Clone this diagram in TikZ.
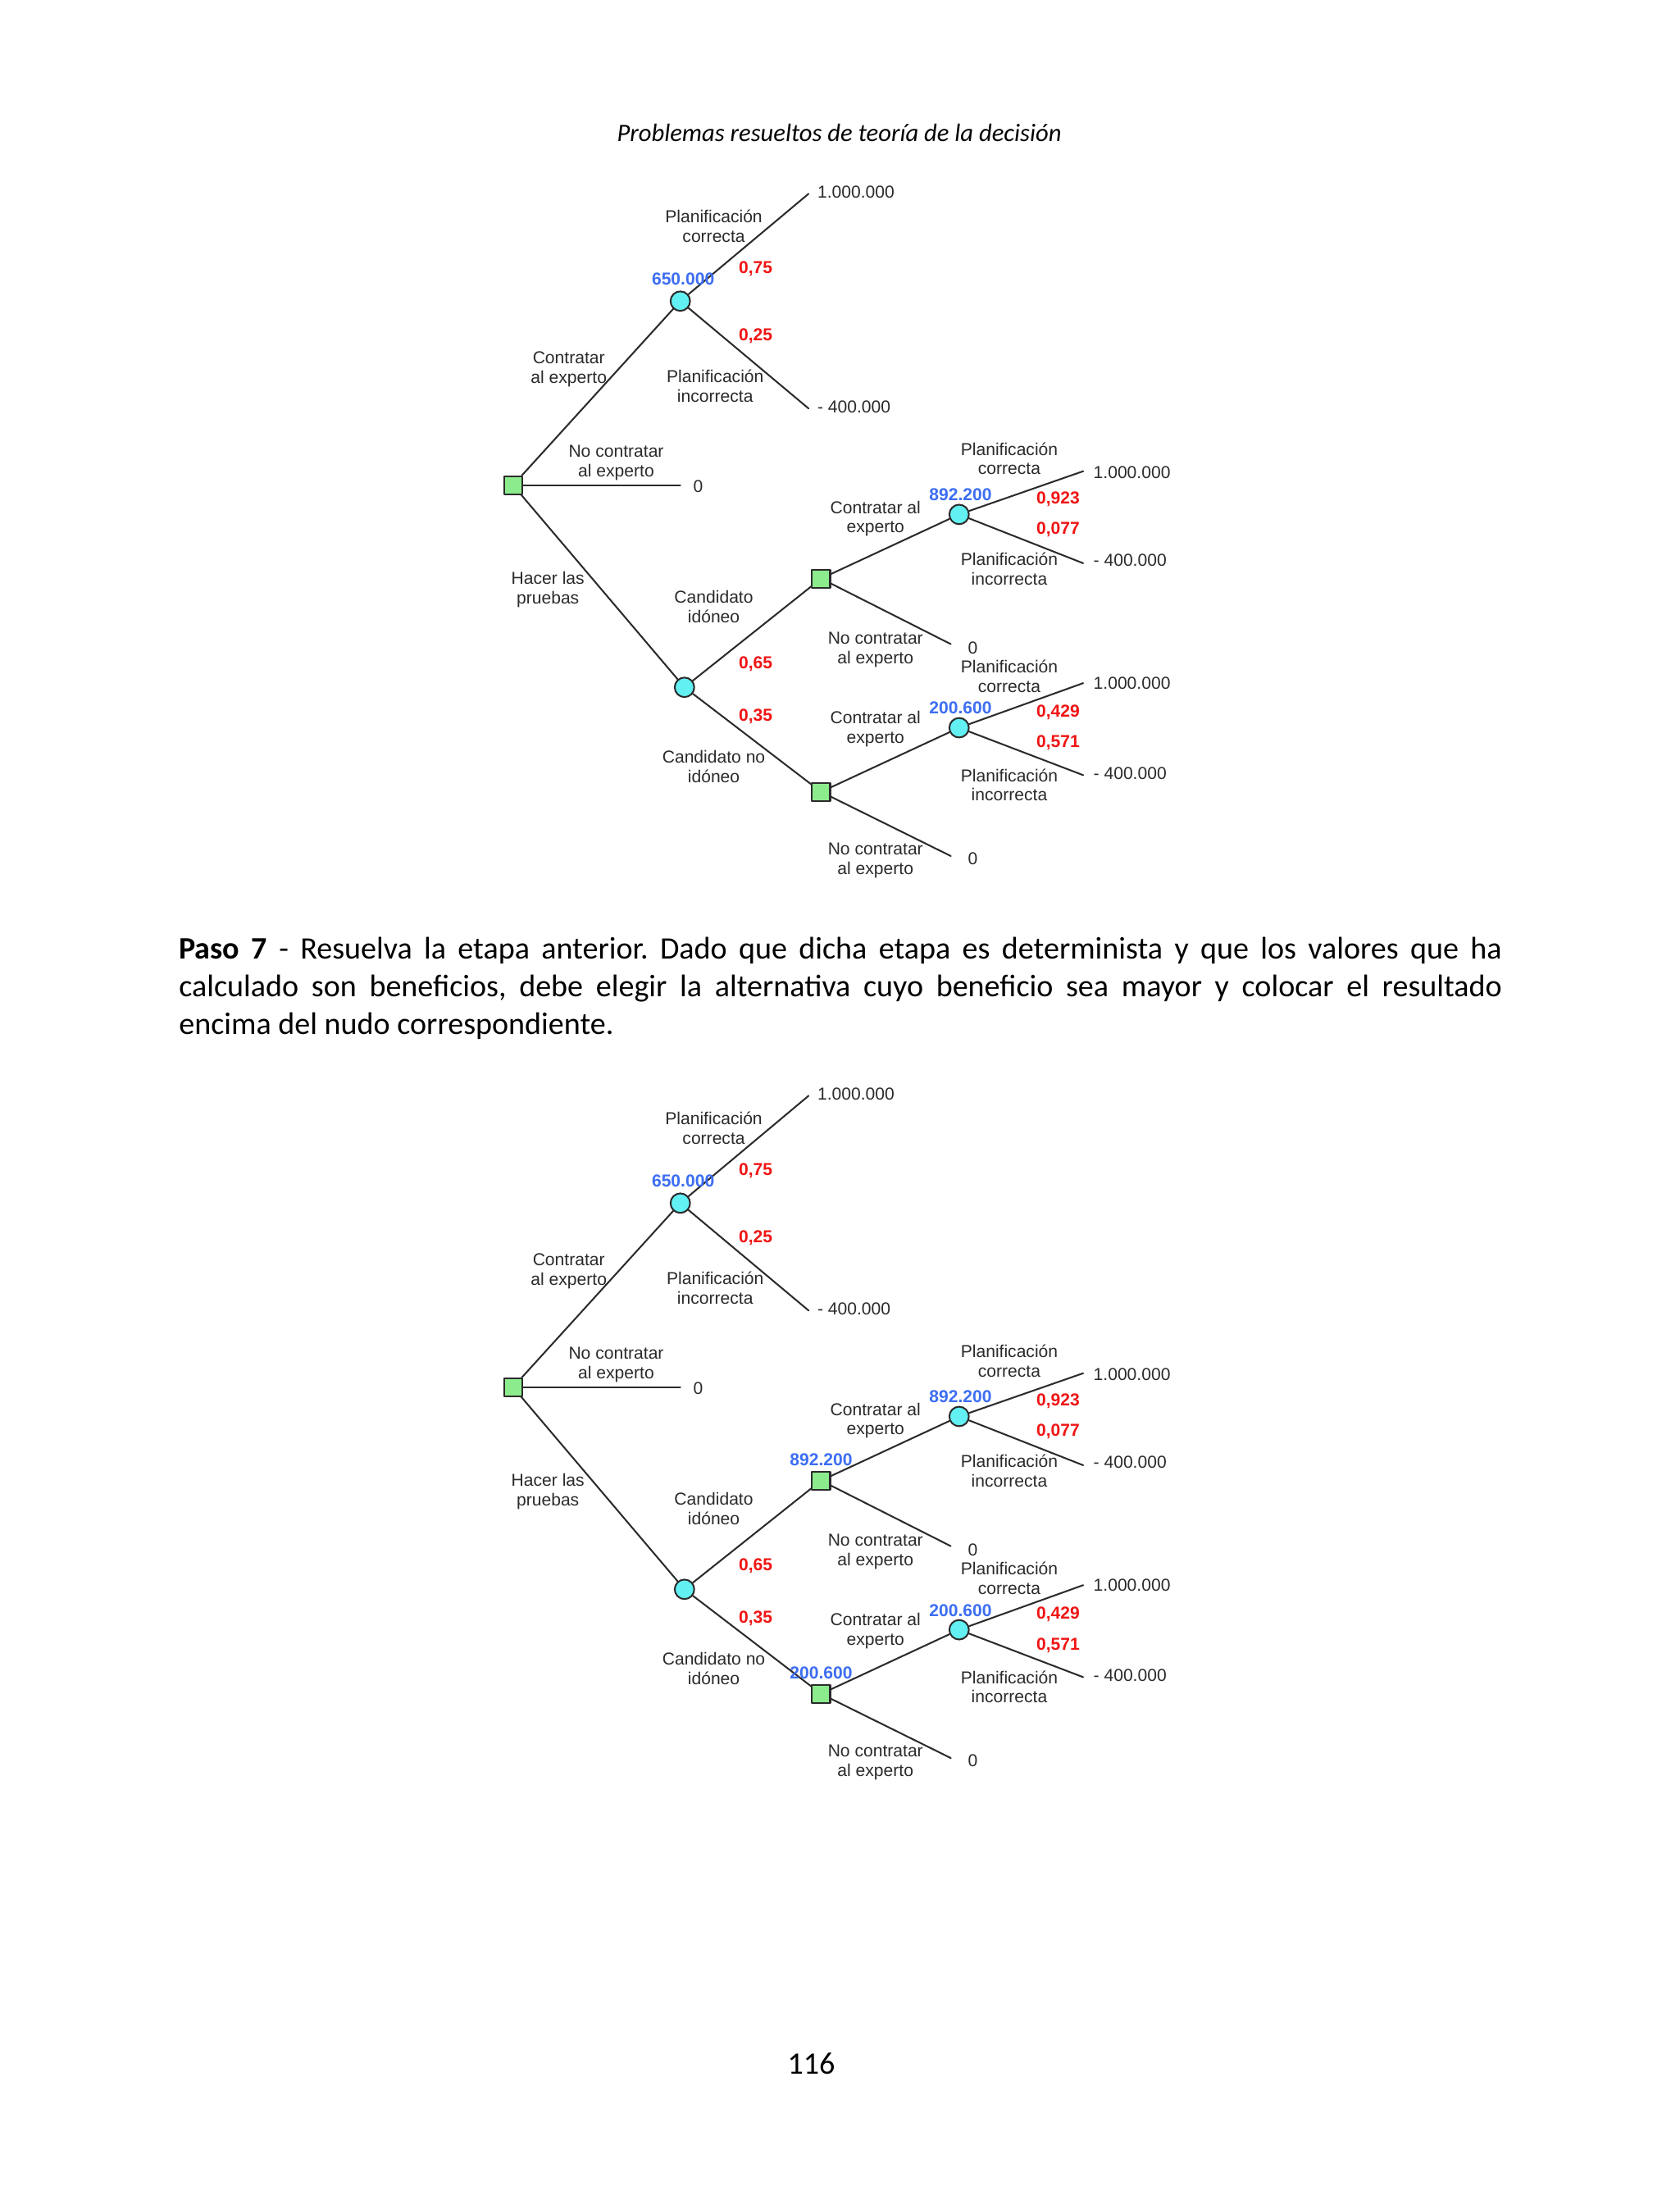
\documentclass[tikz,border=0pt]{standalone}
\usepackage{fontspec}
\setmainfont{Carlito}
\newfontfamily\arialfont{Liberation Sans}
\usetikzlibrary{positioning}
\definecolor{treeGreen}{HTML}{8CEB8C}
\definecolor{treeCyan}{HTML}{62F0F2}
\definecolor{treeInk}{HTML}{2B2B2B}
\definecolor{evBlue}{HTML}{3D6EF2}
\definecolor{probRed}{HTML}{F01414}
\begin{document}
\begin{tikzpicture}[x=0.5pt,y=-0.5pt,line cap=round,line join=round]
\path[fill=white] (0,0) rectangle (1205,1568);
\tikzset{decision/.style={draw=treeInk,fill=treeGreen,minimum size=6.5pt,inner sep=0pt,line width=0.6pt},chance/.style={circle,draw=treeInk,fill=treeCyan,minimum size=7pt,inner sep=0pt,line width=0.6pt},branch/.style={draw=treeInk,line width=0.6pt},lbl/.style={font=\arialfont\fontsize{6.2}{7}\selectfont,text=treeInk,align=center,inner sep=0pt},payoff/.style={lbl,anchor=west},prob/.style={font=\arialfont\bfseries\fontsize{6.2}{7}\selectfont,text=probRed,inner sep=0pt},ev/.style={font=\arialfont\bfseries\fontsize{6.2}{7}\selectfont,text=evBlue,inner sep=0pt},body/.style={font=\fontsize{11.2}{13.5}\selectfont\frenchspacing,inner sep=0pt}}
\node[body,font=\itshape\fontsize{9}{11}\selectfont] (head) at (602,95) {Problemas resueltos de teoría de la decisión};
\foreach \t/\dy in {a/0,b/647}{
\begin{scope}[shift={(0,\dy)}]
\node[decision] (r\t) at (368,348) {}; \node[chance] (c1\t) at (488,216) {}; \node[chance] (c2\t) at (491,493) {};
\node[decision] (d2\t) at (589,415) {}; \node[decision] (d3\t) at (589,568) {};
\node[chance] (c3\t) at (688,369) {}; \node[chance] (c4\t) at (688,522) {};
\coordinate (e1\t) at (580,139); \coordinate (e2\t) at (580,293); \coordinate (e3\t) at (488,348);
\coordinate (e4\t) at (777,338); \coordinate (e5\t) at (777,404); \coordinate (e6\t) at (682,462);
\coordinate (e7\t) at (777,490); \coordinate (e8\t) at (777,556); \coordinate (e9\t) at (682,614);
\draw[branch] (r\t) -- (c1\t); \draw[branch] (r\t) -- (e3\t); \draw[branch] (r\t) -- (c2\t);
\draw[branch] (c1\t) -- (e1\t); \draw[branch] (c1\t) -- (e2\t);
\draw[branch] (c2\t) -- (d2\t); \draw[branch] (c2\t) -- (d3\t);
\draw[branch] (d2\t) -- (c3\t); \draw[branch] (d2\t) -- (e6\t); \draw[branch] (c3\t) -- (e4\t); \draw[branch] (c3\t) -- (e5\t);
\draw[branch] (d3\t) -- (c4\t); \draw[branch] (d3\t) -- (e9\t); \draw[branch] (c4\t) -- (e7\t); \draw[branch] (c4\t) -- (e8\t);
\node[lbl] (pc1\t) at (512,162) {Planificación\\correcta}; \node[lbl] (pi1\t) at (513,277) {Planificación\\incorrecta};
\node[prob] (p75\t) at (542,193) {0,75}; \node[prob] (p25\t) at (542,241) {0,25}; \node[ev] (v1\t) at (490,200) {650.000};
\node[lbl] (ce\t) at (408,265) {Contratar\\al experto}; \node[lbl] (nc\t) at (442,332) {No contratar\\al experto};
\node[lbl] (hp\t) at (393,423) {Hacer las\\pruebas};
\node[lbl] (ci\t) at (512,435) {Candidato\\idóneo}; \node[lbl] (cn\t) at (512,550) {Candidato no\\idóneo};
\node[prob] (p65\t) at (542,476) {0,65}; \node[prob] (p35\t) at (542,514) {0,35};
\node[lbl] (ce2\t) at (628,372) {Contratar al\\experto}; \node[lbl] (nc2\t) at (628,466) {No contratar\\al experto};
\node[ev] (v3\t) at (689,355) {892.200};
\node[lbl] (pc3\t) at (724,329) {Planificación\\correcta}; \node[lbl] (pi3\t) at (724,408) {Planificación\\incorrecta};
\node[prob] (p923\t) at (759,358) {0,923}; \node[prob] (p077\t) at (759,380) {0,077};
\node[lbl] (ce3\t) at (628,523) {Contratar al\\experto}; \node[lbl] (nc3\t) at (628,617) {No contratar\\al experto};
\node[ev] (v4\t) at (689,508) {200.600};
\node[lbl] (pc4\t) at (724,485) {Planificación\\correcta}; \node[lbl] (pi4\t) at (724,563) {Planificación\\incorrecta};
\node[prob] (p429\t) at (759,511) {0,429}; \node[prob] (p571\t) at (759,533) {0,571};
\node[payoff] (o1\t) at (586,138) {1.000.000}; \node[payoff] (o2\t) at (586,292) {- 400.000}; \node[payoff] (o3\t) at (497,349) {0};
\node[payoff] (o4\t) at (784,339) {1.000.000}; \node[payoff] (o5\t) at (784,402) {- 400.000}; \node[payoff] (o6\t) at (694,465) {0};
\node[payoff] (o7\t) at (784,490) {1.000.000}; \node[payoff] (o8\t) at (784,555) {- 400.000}; \node[payoff] (o9\t) at (694,616) {0};
\end{scope}}
\node[ev,above=1.5pt of d2b] (v2b) {892.200}; \node[ev,above=1.5pt of d3b] (v5b) {200.600};
\node[body,anchor=north west,text width=474.5pt,align=justify] (paso) at (128,672) {\textbf{Paso 7} - Resuelva la etapa anterior. Dado que dicha etapa es determinista y que los valores que ha\linebreak calculado son beneficios, debe elegir la alternativa cuyo beneficio sea mayor y colocar el resultado\linebreak encima del nudo correspondiente.};
\node[body] (page) at (582,1480) {116};
\end{tikzpicture}
\end{document}
